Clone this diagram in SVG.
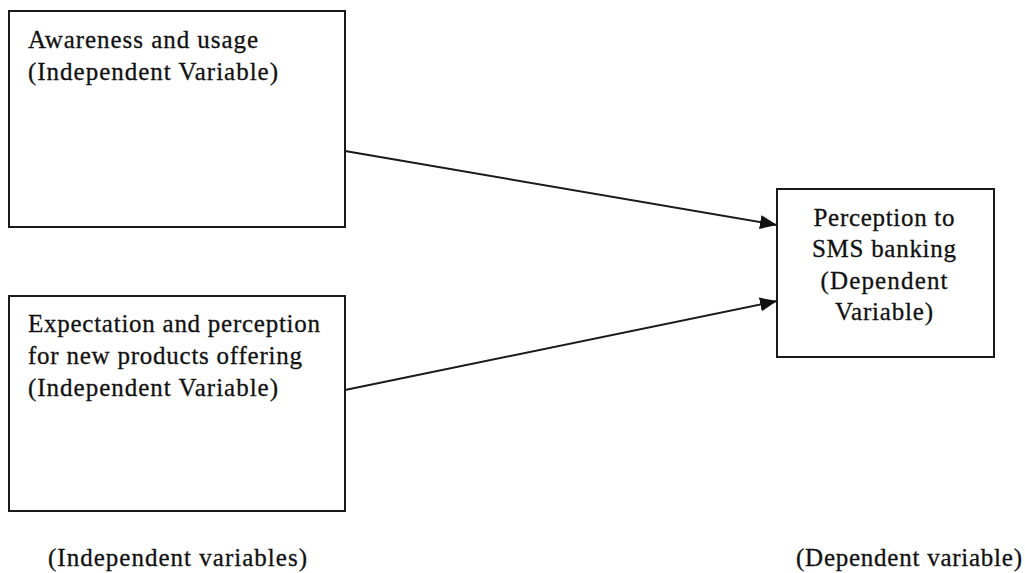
<svg xmlns="http://www.w3.org/2000/svg" width="1025" height="573" viewBox="0 0 1025 573">
<style>
.box{fill:#fff;stroke:#1a1a1a;stroke-width:2}
.t{font-family:"Liberation Serif","Times New Roman",serif;font-size:25px;fill:#111;stroke:#111;stroke-width:0.3}
.c{text-anchor:middle}
.conn{stroke:#1a1a1a;stroke-width:2;fill:none}
</style>
<defs>
<marker id="ah" markerUnits="userSpaceOnUse" markerWidth="18" markerHeight="14" refX="17" refY="7" orient="auto">
<path d="M0,0 L17,7 L0,14 Z" fill="#111"/>
</marker>
</defs>
<rect width="1025" height="573" fill="#fff"/>
<g id="node-awareness">
<rect class="box" x="9" y="11" width="336" height="216"/>
<text class="t" x="28" y="48" textLength="230" lengthAdjust="spacing">Awareness and usage</text>
<text class="t" x="28" y="80" textLength="250" lengthAdjust="spacing">(Independent Variable)</text>
</g>
<g id="node-expectation">
<rect class="box" x="9" y="296" width="336" height="215"/>
<text class="t" x="28" y="332" textLength="292" lengthAdjust="spacing">Expectation and perception</text>
<text class="t" x="28" y="364" textLength="274" lengthAdjust="spacing">for new products offering</text>
<text class="t" x="28" y="396" textLength="250" lengthAdjust="spacing">(Independent Variable)</text>
</g>
<g id="node-perception">
<rect class="box" x="777" y="189" width="217" height="168"/>
<text class="t c" x="884" y="226" textLength="141" lengthAdjust="spacing">Perception to</text>
<text class="t c" x="884" y="257" textLength="144" lengthAdjust="spacing">SMS banking</text>
<text class="t c" x="884" y="289" textLength="127" lengthAdjust="spacing">(Dependent</text>
<text class="t c" x="884" y="320" textLength="98" lengthAdjust="spacing">Variable)</text>
</g>
<g id="connectors">
<line class="conn" x1="345" y1="151" x2="777" y2="225" marker-end="url(#ah)"/>
<line class="conn" x1="345" y1="390" x2="777" y2="301" marker-end="url(#ah)"/>
</g>
<g id="labels">
<text class="t" x="48" y="566" textLength="259" lengthAdjust="spacing">(Independent variables)</text>
<text class="t" x="1022" y="566" text-anchor="end" textLength="226" lengthAdjust="spacing">(Dependent variable)</text>
</g>
</svg>
